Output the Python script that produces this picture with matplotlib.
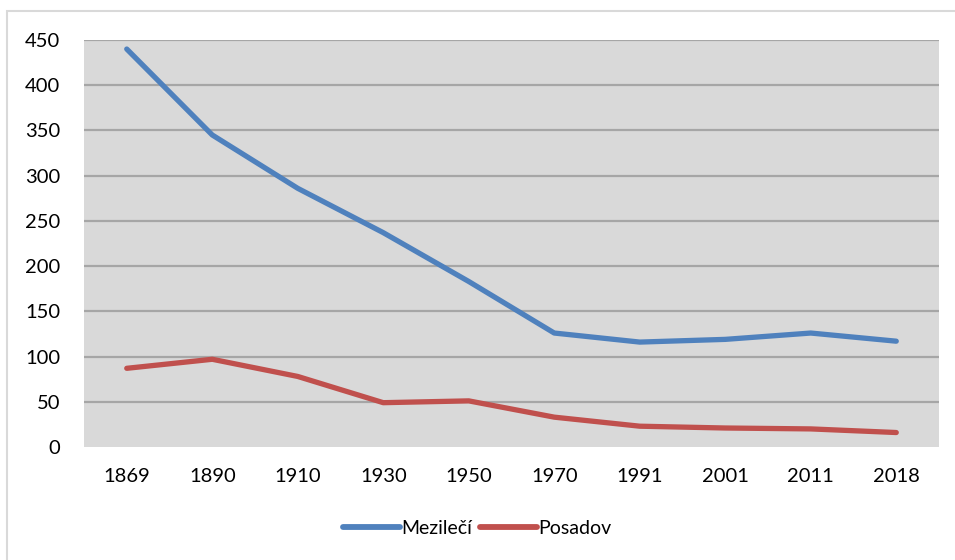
import matplotlib
matplotlib.use("Agg")
import matplotlib.pyplot as plt
from matplotlib.patches import Rectangle

years = ["1869", "1890", "1910", "1930", "1950", "1970", "1991", "2001", "2011", "2018"]
mezileci = [440, 345, 286, 237, 183, 126, 116, 119, 126, 117]
posadov = [87, 97, 78, 49, 51, 33, 23, 21, 20, 16]
yticks = [0, 50, 100, 150, 200, 250, 300, 350, 400, 450]

plt.rcParams['font.family'] = ['Lato', 'DejaVu Sans']

fig = plt.figure(figsize=(9.55, 5.6), dpi=100)
fig.patches.append(Rectangle((7/955, -0.01), 1.0, 1 - 11/560 + 0.01, transform=fig.transFigure,
                             fill=False, edgecolor='#D9D9D9', linewidth=1.5))
ax = fig.add_axes([84/955, 1 - 447/560, (939 - 84)/955, (447 - 40)/560])
ax.set_facecolor('#D9D9D9')
x = list(range(len(years)))
for t in yticks[1:]:
    ax.axhline(t, color='#A6A6A6', linewidth=1.6, zorder=1)
ax.plot(x, mezileci, color='#4F81BD', linewidth=3.8, solid_capstyle='round', solid_joinstyle='round', zorder=3, label='Mezilečí')
ax.plot(x, posadov, color='#C0504D', linewidth=3.8, solid_capstyle='round', solid_joinstyle='round', zorder=3, label='Posadov')
ax.set_xlim(-0.5, len(years) - 0.5)
ax.set_ylim(0, 450)
ax.set_yticks(yticks)
ax.set_xticks(x)
ax.set_xticklabels(years)
for s in ax.spines.values():
    s.set_visible(False)
ax.tick_params(length=0, labelsize=14.5, colors='black')
ax.tick_params(axis='x', pad=15)
ax.tick_params(axis='y', pad=17)
for lab in ax.get_yticklabels():
    lab.set_horizontalalignment('right')
leg = fig.legend(loc='center', bbox_to_anchor=(0.5, 1 - 528/560), ncol=2, frameon=False,
                 fontsize=14, handlelength=2.9, handletextpad=0.1, columnspacing=0.4)
for h in leg.get_lines():
    h.set_linewidth(4.2)
fig.savefig('out.png', dpi=100)
